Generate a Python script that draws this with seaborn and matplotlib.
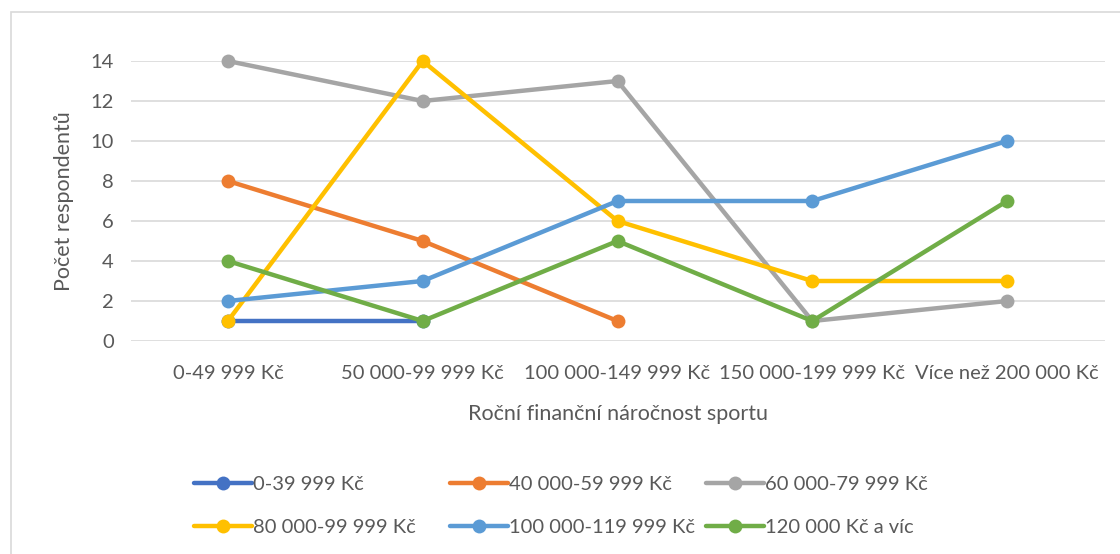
import numpy as np
import pandas as pd
import matplotlib.pyplot as plt
import seaborn as sns

# kategorie na ose x (roční náročnost sportu)
categories = ['0-49 999 Kč', '50 000-99 999 Kč', '100 000-149 999 Kč',
              '150 000-199 999 Kč', 'Více než 200 000 Kč']

# příjmové skupiny respondentů
groups = ['0-39 999 Kč', '40 000-59 999 Kč', '60 000-79 999 Kč',
          '80 000-99 999 Kč', '100 000-119 999 Kč', '120 000 Kč a víc']

s_0_39 = [1, 1, np.nan, np.nan, np.nan]
s_40_59 = [8, 5, 1, np.nan, np.nan]
s_60_79 = [14, 12, 13, 1, 2]
s_80_99 = [1, 14, 6, 3, 3]
s_100_119 = [2, 3, 7, 7, 10]
s_120_plus = [4, 1, 5, 1, 7]

colors = ['#4472C4', '#ED7D31', '#A5A5A5', '#FFC000', '#5B9BD5', '#70AD47']

series = [s_0_39, s_40_59, s_60_79, s_80_99, s_100_119, s_120_plus]
rows = []
for g, vals in zip(groups, series):
    for i, v in enumerate(vals):
        rows.append({'x': i, 'y': v, 'skupina': g})
df = pd.DataFrame(rows).dropna()

sns.set_style('white')
plt.rcParams['font.family'] = ['Lato', 'DejaVu Sans']
TXT = '#595959'
FS = 14.5

fig = plt.figure(figsize=(11.2, 5.54), dpi=100)
# rámeček grafu
fig.patches.append(plt.Rectangle((11 / 1120, -0.05), 1.2, 1 - 12 / 554 + 0.05,
                                 transform=fig.transFigure, fill=False,
                                 edgecolor='#D9D9D9', linewidth=1.2))
ax = fig.add_axes([130.5 / 1120, 1 - 341 / 554, 974 / 1120, 280 / 554])

sns.lineplot(data=df, x='x', y='y', hue='skupina', hue_order=groups,
             palette=colors, marker='o', markersize=10, markeredgewidth=0,
             linewidth=3.2, sort=False, ax=ax, legend=True, clip_on=False,
             zorder=3)

ax.set_xlim(-0.5, 4.5)
ax.set_ylim(0, 14)
ax.set_yticks(range(0, 15, 2))
ax.set_xticks(range(len(categories)))
ax.set_xticklabels(categories)
ax.yaxis.grid(True, color='#D9D9D9', linewidth=1.2)
ax.set_axisbelow(True)
for sp in ax.spines.values():
    sp.set_visible(False)
ax.tick_params(axis='both', length=0, labelsize=FS, labelcolor=TXT)
ax.tick_params(axis='x', pad=17)
ax.tick_params(axis='y', pad=12)

ax.set_xlabel('Roční finanční náročnost sportu', fontsize=15.5, color=TXT,
              labelpad=16)
ax.set_ylabel('Počet respondentů', fontsize=15.5, color=TXT, labelpad=12)

handles, labels = ax.get_legend_handles_labels()
ax.get_legend().remove()
# legenda: 3 sloupce po 2 položkách, řádky po řádcích
col_x = [194, 450, 706]
for c in range(3):
    idx = [c, c + 3]
    fig.legend([handles[i] for i in idx], [labels[i] for i in idx],
               loc='upper left', bbox_to_anchor=(col_x[c] / 1120, 1 - 476 / 554),
               frameon=False, fontsize=FS, labelcolor=TXT, handlelength=2.9,
               handletextpad=0.05, labelspacing=1.3, borderpad=0,
               borderaxespad=0)

fig.savefig('out.png', dpi=100)
